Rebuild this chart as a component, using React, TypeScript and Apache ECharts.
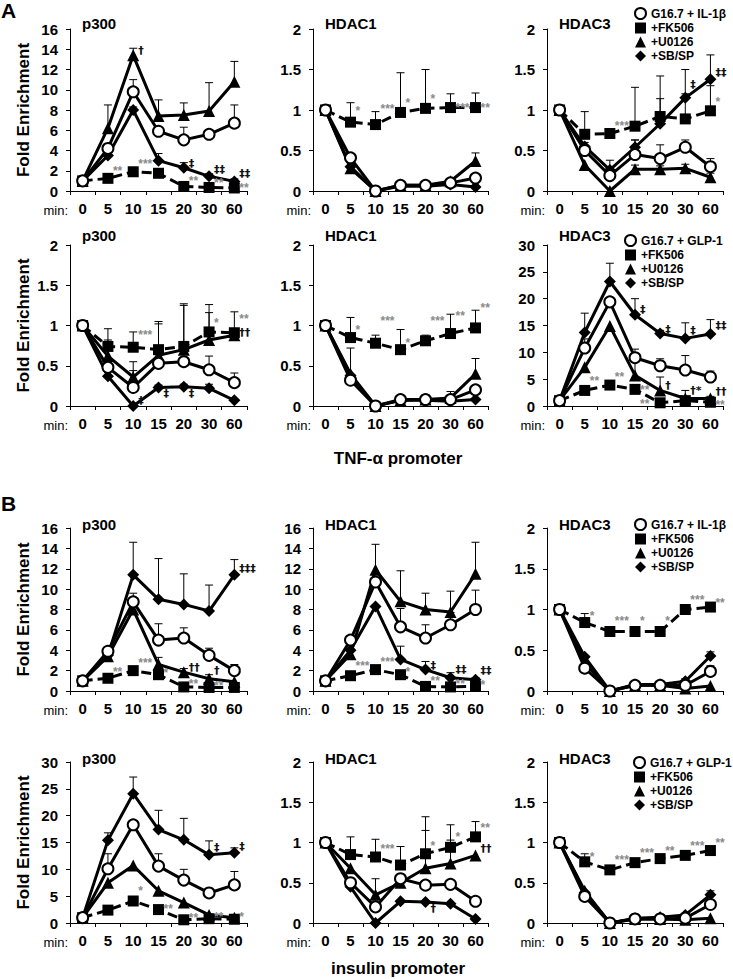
import React, { useEffect, useRef } from 'react';
import * as echarts from 'echarts';

// ---------------- data ----------------
const categories = ['0', '5', '10', '15', '20', '30', '60'];
const stimIL = 'G16.7 + IL-1β';
const stimGLP = 'G16.7 + GLP-1';
const inhibitorNames = ['+FK506', '+U0126', '+SB/SP'];

type Note = [number, number, string];
type PanelData = {
  g: number[]; gHi: (number | null)[];
  fk: number[]; fkHi: (number | null)[];
  u: number[]; uHi: (number | null)[];
  sb: number[]; sbHi: (number | null)[];
  notes: Note[];
};
const N = null;

// TNF-α promoter, IL-1β
const tnfP300IL: PanelData = {
  g: [1, 4.2, 9.8, 5.9, 5.05, 5.6, 6.7], gHi: [N, 4.6, 11.0, 6.3, 6.3, 6.05, 8.5],
  fk: [1, 1.25, 1.9, 1.75, 0.45, 0.35, 0.3], fkHi: [N, N, 2.1, 2.0, N, N, N],
  u: [1, 6.2, 13.4, 7.4, 7.5, 7.9, 10.8], uHi: [N, 8.5, 14.1, 9.0, 8.7, 10.7, 12.8],
  sb: [1, 3.5, 8.0, 3.0, 2.3, 1.45, 0.95], sbHi: [N, 3.7, 8.3, 3.7, 2.8, 1.7, 1.2],
  notes: [[1, 2.0, '**'], [2, 2.65, '***'], [2, 13.9, '†'], [4, 2.75, '‡'], [5, 2.1, '‡‡'], [6, 1.75, '‡‡'], [4, 1.0, '**'], [5, 0.8, '**'], [6, 0.3, '**']],
};
const tnfHdac1IL: PanelData = {
  g: [1, 0.41, 0.0, 0.07, 0.07, 0.1, 0.16], gHi: [N, N, N, N, N, N, 0.19],
  fk: [1, 0.85, 0.82, 0.97, 1.02, 1.03, 1.03], fkHi: [N, 1.09, 0.98, 1.46, 1.5, 1.2, 1.21],
  u: [1, 0.28, 0.0, 0.07, 0.07, 0.12, 0.37], uHi: [N, N, N, N, N, 0.15, 0.47],
  sb: [1, 0.3, 0.0, 0.06, 0.06, 0.08, 0.05], sbHi: [N, N, N, N, N, N, N],
  notes: [[1, 0.99, '*'], [2, 1.01, '***'], [3, 1.09, '*'], [4, 1.14, '*'], [5, 1.03, '***'], [6, 1.03, '**']],
};
const tnfHdac3IL: PanelData = {
  g: [1, 0.5, 0.19, 0.45, 0.4, 0.54, 0.3], gHi: [N, 0.56, 0.3, 0.63, 0.57, 0.63, 0.4],
  fk: [1, 0.7, 0.71, 0.8, 0.92, 0.89, 0.99], fkHi: [N, 0.98, N, 1.28, 1.42, 1.2, 1.3],
  u: [1, 0.32, 0.0, 0.27, 0.27, 0.28, 0.17], uHi: [N, N, N, 0.32, 0.31, 0.33, 0.22],
  sb: [1, 0.55, 0.26, 0.54, 0.83, 1.15, 1.38], sbHi: [N, 0.6, 0.38, 0.63, 1.14, 1.5, 1.68],
  notes: [[2, 0.8, '***'], [5, 1.31, '‡'], [6, 1.46, '‡‡'], [6, 1.1, '*']],
};
// TNF-α promoter, GLP-1
const tnfP300GLP: PanelData = {
  g: [1, 0.48, 0.23, 0.53, 0.55, 0.45, 0.29], gHi: [N, N, 0.44, N, N, 0.62, 0.41],
  fk: [1, 0.74, 0.73, 0.7, 0.74, 0.92, 0.91], fkHi: [N, 0.96, 0.92, 1.05, 1.27, 1.26, 1.17],
  u: [1, 0.62, 0.36, 0.63, 0.7, 0.82, 0.88], uHi: [N, 0.82, 0.55, 1.02, 1.25, 1.16, N],
  sb: [1, 0.37, 0.0, 0.23, 0.24, 0.22, 0.07], sbHi: [N, N, N, 0.26, 0.27, 0.27, N],
  notes: [[2, 0.88, '***'], [5, 1.03, '*'], [6, 1.08, '**'], [6, 0.91, '††'], [2, 0.07, '‡'], [3, 0.16, '‡'], [4, 0.16, '‡']],
};
const tnfHdac1GLP: PanelData = {
  g: [1, 0.32, 0.0, 0.08, 0.08, 0.08, 0.2], gHi: [N, N, N, N, N, N, 0.22],
  fk: [1, 0.85, 0.78, 0.7, 0.81, 0.9, 0.97], fkHi: [N, 1.1, 0.88, 0.95, 0.88, 1.14, 1.19],
  u: [1, 0.4, 0.0, 0.07, 0.08, 0.1, 0.4], uHi: [N, 0.72, N, 0.1, 0.14, 0.18, 0.59],
  sb: [1, 0.38, 0.0, 0.07, 0.07, 0.06, 0.08], sbHi: [N, N, N, N, N, N, N],
  notes: [[1, 0.94, '*'], [2, 1.06, '***'], [3, 0.78, '*'], [4, 1.06, '***'], [5, 1.12, '**'], [6, 1.22, '**']],
};
const tnfHdac3GLP: PanelData = {
  g: [1, 10.8, 19.4, 9.0, 7.5, 6.7, 5.4], gHi: [N, 12.5, N, 10.6, 8.8, 9.4, 6.5],
  fk: [1, 2.9, 3.9, 3.1, 0.6, 1.0, 0.7], fkHi: [N, N, N, N, N, N, N],
  u: [1, 7.2, 14.9, 5.7, 2.9, 1.4, 1.4], uHi: [N, N, N, 8.5, 5.4, 2.9, 1.8],
  sb: [1, 13.7, 23.2, 17.0, 13.5, 12.6, 13.4], sbHi: [N, 17.3, 26.6, 20.0, 14.1, 15.5, 16.1],
  notes: [[1, 4.6, '**'], [2, 5.4, '**'], [3, 3.0, '**'], [3, 0.4, '**'], [4, 3.9, '†'], [5, 2.8, '†*'], [6, 2.7, '††'], [6, 0.1, '**'], [3, 18.0, '‡'], [4, 14.2, '‡'], [5, 14.0, '‡'], [6, 15.0, '‡‡']],
};
// insulin promoter, IL-1β
const insP300IL: PanelData = {
  g: [1, 3.9, 8.75, 5.0, 5.2, 3.5, 2.0], gHi: [N, 4.3, 9.6, 6.6, 6.2, 4.2, 2.6],
  fk: [1, 1.25, 2.0, 1.6, 0.4, 0.35, 0.35], fkHi: [N, N, N, 2.2, N, N, N],
  u: [1, 3.4, 8.0, 2.6, 1.85, 1.2, 0.9], uHi: [N, N, N, 3.3, 2.2, 1.6, N],
  sb: [1, 3.5, 11.4, 9.0, 8.5, 7.85, 11.4], sbHi: [N, N, 14.6, 13.0, 11.5, 10.4, 12.9],
  notes: [[1, 1.9, '**'], [2, 2.7, '***'], [3, 1.8, '*'], [4, 2.3, '††'], [5, 2.0, '†'], [4, 0.7, '**'], [5, 0.5, '**'], [6, 12.0, '‡‡‡']],
};
const insHdac1IL: PanelData = {
  g: [1, 5.0, 10.7, 6.3, 5.2, 6.5, 8.0], gHi: [N, 5.4, N, 8.1, 6.5, 7.7, 9.9],
  fk: [1, 1.5, 2.1, 1.6, 0.45, 0.4, 0.45], fkHi: [N, N, N, N, N, N, N],
  u: [1, 3.6, 11.9, 8.8, 8.0, 7.75, 11.5], uHi: [N, N, 14.4, 11.8, 9.6, 9.8, 14.6],
  sb: [1, 4.0, 8.3, 3.1, 2.1, 1.3, 1.1], sbHi: [N, N, N, 4.4, 2.9, 1.8, 1.3],
  notes: [[1, 2.45, '***'], [2, 2.85, '***'], [3, 1.9, '*'], [4, 2.5, '‡'], [4, 1.0, '**'], [5, 2.1, '‡‡'], [5, 0.7, '**'], [6, 2.0, '‡‡'], [6, 0.55, '*']],
};
const insHdac3IL: PanelData = {
  g: [1, 0.28, 0.0, 0.07, 0.07, 0.07, 0.24], gHi: [N, N, N, 0.1, 0.1, 0.1, 0.31],
  fk: [1, 0.84, 0.73, 0.73, 0.73, 1.0, 1.03], fkHi: [N, 0.95, N, N, N, N, N],
  u: [1, 0.35, 0.0, 0.07, 0.07, 0.03, 0.06], uHi: [N, N, N, N, N, N, N],
  sb: [1, 0.42, 0.0, 0.08, 0.08, 0.12, 0.43], sbHi: [N, N, N, 0.12, 0.12, 0.15, 0.48],
  notes: [[1, 0.92, '*'], [2, 0.86, '***'], [3, 0.86, '*'], [4, 0.86, '*'], [5, 1.12, '***'], [6, 1.08, '**']],
};
// insulin promoter, GLP-1
const insP300GLP: PanelData = {
  g: [1, 10.1, 18.3, 10.6, 8.0, 5.6, 7.1], gHi: [N, 12.9, N, 12.9, 10.0, 6.4, 9.6],
  fk: [1, 2.4, 4.1, 2.5, 0.6, 0.8, 0.7], fkHi: [N, N, N, N, N, N, N],
  u: [1, 7.5, 10.7, 6.0, 3.8, 1.5, 1.0], uHi: [N, N, N, N, N, N, N],
  sb: [1, 15.4, 24.1, 17.4, 15.5, 12.7, 13.1], sbHi: [N, 16.8, 27.2, 21.0, 19.5, 15.3, 14.0],
  notes: [[2, 6.0, '*'], [3, 2.6, '**'], [4, 1.0, '**'], [5, 1.2, '**'], [6, 1.2, '*'], [5, 14.0, '‡'], [6, 14.3, '‡']],
};
const insHdac1GLP: PanelData = {
  g: [1, 0.5, 0.2, 0.55, 0.47, 0.48, 0.27], gHi: [N, N, N, N, N, N, N],
  fk: [1, 0.85, 0.82, 0.72, 0.86, 0.94, 1.07], fkHi: [N, 1.07, 1.04, 0.95, 1.32, 1.22, 1.26],
  u: [1, 0.68, 0.35, 0.5, 0.68, 0.74, 0.84], uHi: [N, N, 0.55, N, 1.15, 1.03, N],
  sb: [1, 0.45, 0.0, 0.27, 0.26, 0.24, 0.05], sbHi: [N, N, N, N, N, N, N],
  notes: [[2, 0.92, '***'], [4, 0.96, '*'], [5, 1.07, '*'], [6, 1.18, '**'], [6, 0.93, '††'], [4, 0.18, '†']],
};
const insHdac3GLP: PanelData = {
  g: [1, 0.33, 0.0, 0.05, 0.05, 0.06, 0.23], gHi: [N, N, N, N, N, N, N],
  fk: [1, 0.76, 0.66, 0.75, 0.8, 0.84, 0.9], fkHi: [N, 0.86, N, N, N, N, N],
  u: [1, 0.4, 0.0, 0.05, 0.05, 0.04, 0.06], uHi: [N, N, N, N, N, N, N],
  sb: [1, 0.38, 0.0, 0.06, 0.07, 0.1, 0.35], sbHi: [N, N, N, N, N, 0.12, 0.4],
  notes: [[1, 0.82, '*'], [2, 0.78, '***'], [3, 0.87, '***'], [4, 0.9, '**'], [5, 0.96, '***'], [6, 0.99, '**']],
};

const panels = [
  { row: 0, col: 0, title: 'p300', max: 16, step: 2, d: tnfP300IL },
  { row: 0, col: 1, title: 'HDAC1', max: 2, step: 0.5, d: tnfHdac1IL },
  { row: 0, col: 2, title: 'HDAC3', max: 2, step: 0.5, d: tnfHdac3IL },
  { row: 1, col: 0, title: 'p300', max: 2, step: 0.5, d: tnfP300GLP },
  { row: 1, col: 1, title: 'HDAC1', max: 2, step: 0.5, d: tnfHdac1GLP },
  { row: 1, col: 2, title: 'HDAC3', max: 30, step: 5, d: tnfHdac3GLP },
  { row: 2, col: 0, title: 'p300', max: 16, step: 2, d: insP300IL },
  { row: 2, col: 1, title: 'HDAC1', max: 16, step: 2, d: insHdac1IL },
  { row: 2, col: 2, title: 'HDAC3', max: 2, step: 0.5, d: insHdac3IL },
  { row: 3, col: 0, title: 'p300', max: 30, step: 5, d: insP300GLP },
  { row: 3, col: 1, title: 'HDAC1', max: 2, step: 0.5, d: insHdac1GLP },
  { row: 3, col: 2, title: 'HDAC3', max: 2, step: 0.5, d: insHdac3GLP },
];

// ---------------- layout ----------------
const W = 733;
const H = 979;
const FONT = 'Arial, "Liberation Sans", Helvetica, sans-serif';
const COL_LEFT = [70, 313, 547];
const COL_WIDTH = [177, 175, 176];
const ROW_TOP = [29, 245, 528, 762];
const ROW_H = [162, 161, 163, 161];
const TITLE_Y = [23, 235, 524, 758];
const LEGEND_LEFT = [634, 624, 634, 633];
const LEGEND_TOP = [7, 234, 518, 756];

function buildOption() {
  const grid: any[] = [];
  const xAxis: any[] = [];
  const yAxis: any[] = [];
  const series: any[] = [];
  const graphic: any[] = [];

  panels.forEach((p, i) => {
    const left = COL_LEFT[p.col];
    const top = ROW_TOP[p.row];
    const width = COL_WIDTH[p.col];
    const height = ROW_H[p.row];
    const stim = p.row % 2 === 0 ? stimIL : stimGLP;
    grid.push({ left, top, width, height });
    xAxis.push({
      type: 'category', gridIndex: i, data: categories, boundaryGap: true,
      axisLine: { show: true, lineStyle: { color: '#000', width: 1 } },
      axisTick: { show: true, length: 4, lineStyle: { color: '#000' } },
      axisLabel: { interval: 0, margin: 10, fontSize: 15, fontWeight: 'bold', color: '#000', fontFamily: FONT },
      splitLine: { show: false },
    });
    yAxis.push({
      type: 'value', gridIndex: i, min: 0, max: p.max, interval: p.step,
      axisLine: { show: true, lineStyle: { color: '#000', width: 1 } },
      axisTick: { show: true, length: 4, lineStyle: { color: '#000' } },
      axisLabel: { margin: 12, fontSize: 15, fontWeight: 'bold', color: '#000', fontFamily: FONT },
      splitLine: { show: false },
      name: p.col === 0 ? 'Fold Enrichment' : '',
      nameLocation: 'middle', nameGap: 38,
      nameTextStyle: { fontSize: 17, fontWeight: 'bold', color: '#000', fontFamily: FONT },
    });

    const d = p.d;
    const errData: number[][] = [];
    const addErr = (vals: number[], hi: (number | null)[]) => {
      hi.forEach((h, k) => { if (h != null) errData.push([k, vals[k], h]); });
    };
    addErr(d.g, d.gHi); addErr(d.fk, d.fkHi); addErr(d.u, d.uHi); addErr(d.sb, d.sbHi);
    series.push({
      type: 'custom', xAxisIndex: i, yAxisIndex: i, data: errData, z: 2, silent: true,
      encode: { x: 0, y: [1, 2] },
      renderItem: (_params: any, api: any) => {
        const x = api.value(0);
        const p0 = api.coord([x, api.value(1)]);
        const p1 = api.coord([x, api.value(2)]);
        return {
          type: 'group', children: [
            { type: 'line', shape: { x1: p0[0], y1: p0[1], x2: p1[0], y2: p1[1] }, style: { stroke: '#000', lineWidth: 1 } },
            { type: 'line', shape: { x1: p1[0] - 4, y1: p1[1], x2: p1[0] + 4, y2: p1[1] }, style: { stroke: '#000', lineWidth: 1 } },
          ],
        };
      },
    });

    const line = (name: string, vals: number[], symbol: string, size: number, dashed: boolean, open: boolean) => ({
      type: 'line', name, xAxisIndex: i, yAxisIndex: i, data: vals, symbol, symbolSize: size,
      silent: true, z: 3,
      lineStyle: { color: '#000', width: 3, type: dashed ? [10, 5] : 'solid' },
      itemStyle: open ? { color: '#fff', borderColor: '#000', borderWidth: 2 } : { color: '#000', borderWidth: 0 },
      emphasis: { disabled: true },
    });
    series.push(line(inhibitorNames[0], d.fk, 'rect', 11, true, false));
    series.push(line(inhibitorNames[1], d.u, 'triangle', 12, false, false));
    series.push(line(inhibitorNames[2], d.sb, 'diamond', 12, false, false));
    series.push(line(stim, d.g, 'circle', 11, false, true));

    const notes = d.notes;
    series.push({
      type: 'custom', xAxisIndex: i, yAxisIndex: i, z: 4, silent: true, clip: false,
      data: notes.map((n) => [n[0], n[1]]),
      renderItem: (params: any, api: any) => {
        const n = notes[params.dataIndex];
        const pt = api.coord([n[0], n[1]]);
        const dagger = /[†‡]/.test(n[2]);
        return {
          type: 'text', x: pt[0] + 5, y: pt[1],
          style: {
            text: n[2], fill: dagger ? '#111' : '#8a8a8a', fontSize: dagger ? 11 : 12, fontWeight: 'bold',
            fontFamily: dagger ? '"DejaVu Sans", Arial, sans-serif' : FONT, align: 'left', verticalAlign: 'middle',
          },
        };
      },
    });

    graphic.push({
      type: 'text', x: left + 12, y: TITLE_Y[p.row],
      style: { text: p.title, fontSize: 15, fontWeight: 'bold', fontFamily: FONT, fill: '#000', align: 'left', verticalAlign: 'middle' },
    });
    graphic.push({
      type: 'text', x: left - 2, y: top + height + 19,
      style: { text: 'min:', fontSize: 13, fontFamily: FONT, fill: '#000', align: 'right', verticalAlign: 'middle' },
    });
  });

  graphic.push({ type: 'text', x: 1, y: 0, style: { text: 'A', fontSize: 21, fontWeight: 'bold', fontFamily: FONT, fill: '#000', verticalAlign: 'top' } });
  graphic.push({ type: 'text', x: 1, y: 493, style: { text: 'B', fontSize: 21, fontWeight: 'bold', fontFamily: FONT, fill: '#000', verticalAlign: 'top' } });
  graphic.push({ type: 'text', x: 398, y: 458, style: { text: 'TNF-α promoter', fontSize: 17, fontWeight: 'bold', fontFamily: FONT, fill: '#000', align: 'center', verticalAlign: 'middle' } });
  graphic.push({ type: 'text', x: 398, y: 968, style: { text: 'insulin promoter', fontSize: 17, fontWeight: 'bold', fontFamily: FONT, fill: '#000', align: 'center', verticalAlign: 'middle' } });

  const legend = [0, 1, 2, 3].map((r) => ({
    orient: 'vertical', left: LEGEND_LEFT[r], top: LEGEND_TOP[r], padding: 0,
    itemWidth: 11, itemHeight: 11, itemGap: 2, selectedMode: false,
    textStyle: { fontSize: 12, fontWeight: 'bold', color: '#000', fontFamily: FONT, lineHeight: 11 },
    data: [
      { name: r % 2 === 0 ? stimIL : stimGLP, icon: 'circle', itemStyle: { color: '#fff', borderColor: '#000', borderWidth: 2 } },
      { name: inhibitorNames[0], icon: 'rect', itemStyle: { color: '#000', borderWidth: 0 } },
      { name: inhibitorNames[1], icon: 'triangle', itemStyle: { color: '#000', borderWidth: 0 } },
      { name: inhibitorNames[2], icon: 'diamond', itemStyle: { color: '#000', borderWidth: 0 } },
    ],
  }));

  return {
    animation: false,
    backgroundColor: '#fff',
    textStyle: { fontFamily: FONT },
    grid, xAxis, yAxis, series, graphic, legend,
  };
}

export default function App() {
  const ref = useRef<HTMLDivElement>(null);
  useEffect(() => {
    if (!ref.current) return;
    const chart = echarts.init(ref.current, undefined, { renderer: 'svg' });
    chart.setOption(buildOption() as any);
    return () => chart.dispose();
  }, []);
  return <div ref={ref} style={{ position: 'absolute', left: 0, top: 0, width: W, height: H }} />;
}
